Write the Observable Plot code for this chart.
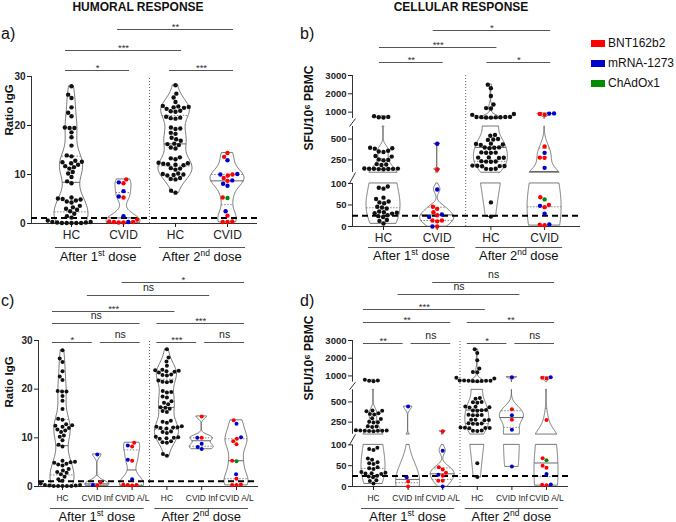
<!DOCTYPE html>
<html>
<head>
<meta charset="utf-8">
<script src="https://cdn.jsdelivr.net/npm/d3@7"></script>
<script src="https://cdn.jsdelivr.net/npm/@observablehq/plot@0.6"></script>
<style>
  html,body{margin:0;padding:0;background:#fff;}
  #chart{position:relative;width:676px;height:522px;overflow:hidden;font-family:"Liberation Sans",Arial,Helvetica,sans-serif;color:#111;}
  #chart svg{position:absolute;left:0;top:0;}
  .ov{position:absolute;white-space:nowrap;line-height:1;}
  .ctr{transform:translate(-50%,-50%);}
  .title{font-weight:bold;font-size:12px;}
  .letter{font-size:16px;}
  .dose{font-size:13px;}
  .dose sup{font-size:8.5px;vertical-align:0;position:relative;top:-5px;}
  .leg{font-size:12px;display:flex;align-items:center;}
  .sw{display:inline-block;width:14px;height:7px;margin-right:3px;}
</style>
</head>
<body>
<div id="chart"></div>
<script>
// ---------------- DATA ----------------
const B = "BNT162b2", M = "mRNA-1273", C = "ChAdOx1";
const vaccines = [B, M, C];
const vaccineColors = ["#ff0000", "#0000cc", "#008a00"];

const sectionTitles = ["HUMORAL RESPONSE", "CELLULAR RESPONSE"];
const panelLetters = ["a)", "b)", "c)", "d)"];
const doseOrdinals = [["1", "st"], ["2", "nd"]];
const labelsTwoGroups = ["HC", "CVID", "HC", "CVID"];
const labelsThreeGroups = ["HC", "CVID Inf", "CVID A/L", "HC", "CVID Inf", "CVID A/L"];
const humoralTicks = [0, 10, 20, 30];
const cellularTicks = [0, 50, 100, 250, 500, 1000, 2000, 3000];
const humoralLabel = "Ratio IgG";
const cellularLabel = "SFU/10\u2076 PBMC";
const humoralThreshold = 1.1;
const cellularThreshold = 25;

// Ratio IgG
const hcHumoralDose1 = [28.0,26.3,25.6,23.7,22.6,21.9,19.6,19.5,19.5,18.6,17.6,15.9,13.9,13.7,12.8,12.6,12.5,12.3,12.0,11.7,11.5,11.2,10.5,10.2,9.5,8.6,8.2,5.3,5.1,5.0,4.9,4.7,4.5,4.3,3.6,3.3,3.0,2.8,2.5,2.0,1.5,1.2,0.6,0.3,0.3,0.2,0.2,0.1,0.1,0.1,0.1,0.1];
const hcHumoralDose2 = [28.2,26.5,25.7,24.8,24.0,23.9,23.8,23.7,23.6,23.4,23.0,22.9,22.8,21.8,21.6,21.5,21.4,19.6,19.4,19.3,18.5,18.3,17.5,17.2,16.9,16.3,16.2,16.0,15.5,15.3,13.5,13.3,13.1,12.4,12.3,12.2,12.1,12.0,11.9,11.3,11.2,11.0,10.2,10.1,10.0,9.9,9.8,9.3,9.1,9.0,6.7,6.3];
const cvidHumoralDose1Inf = [[6.6,M],[0.8,B],[0.3,M],[0.2,B]];
const cvidHumoralDose1AL = [[9.0,B],[8.4,M],[8.2,B],[5.5,M],[5.3,B],[1.5,M],[0.4,B],[0.3,B],[0.3,B],[0.2,B]];
const cvidHumoralDose2Inf = [[14.4,B],[10.0,B],[10.0,M],[8.8,M],[8.1,M],[7.7,M]];
const cvidHumoralDose2AL = [[13.6,B],[12.9,M],[10.1,M],[9.8,B],[9.3,B],[8.7,B],[5.3,B],[5.2,C],[2.5,M],[1.6,B],[0.4,B],[0.3,B],[0.3,B]];

// SFU / 10^6 PBMC
const hcCellularDose1 = [780,740,720,700,395,390,385,360,351,345,297,290,255,250,245,200,196,190,148,146,145,144,143,142,140,138,93,90,88,67,64,58,56,54,46,44,42,35,33,32,31,30,26,24,22,15,13,7];
const hcCellularDose2 = [2500,2300,1880,1420,1220,1200,900,850,740,735,730,725,720,715,710,700,550,540,500,495,490,445,440,435,430,400,398,395,390,340,338,336,335,280,278,276,274,235,232,230,228,182,180,178,176,174,145,143,140,56,23];
const cvidCellularDose1Inf = [[443,M],[22,M],[12,B],[0,B]];
const cvidCellularDose1AL = [[136,B],[86,M],[46,B],[41,B],[33,B],[28,M],[26,B],[14,B],[14,B],[0,M]];
const cvidCellularDose2Inf = [[930,M],[410,B],[335,M],[278,B],[155,M],[48,M]];
const cvidCellularDose2AL = [[920,M],[900,B],[850,B],[275,B],[68,B],[63,C],[50,B],[45,B],[30,M],[5,M],[4,B],[3,B]];

// significance comparisons: [from, to, label, tier]
const comparisonsA = [["HC1","CVID1","*",0],["HC2","CVID2","***",0],["HC1","HC2","***",1],["CVID1","CVID2","**",2]];
const comparisonsB = [["HC1","CVID1","**",0],["HC2","CVID2","*",0],["HC1","HC2","***",1],["CVID1","CVID2","*",2]];
const comparisonsC = [["HC1","Inf1","*",0],["Inf1","AL1","ns",0],["HC2","Inf2","***",0],["Inf2","AL2","ns",0],["HC1","AL1","ns",1],["HC2","AL2","***",1],["HC1","HC2","***",2],["Inf1","Inf2","ns",3],["AL1","AL2","*",4]];
const comparisonsD = [["HC1","Inf1","**",0],["Inf1","AL1","ns",0],["HC2","Inf2","*",0],["Inf2","AL2","ns",0],["HC1","AL1","**",1],["HC2","AL2","**",1],["HC1","HC2","***",2],["Inf1","Inf2","ns",3],["AL1","AL2","ns",4]];

// ---------------- BUILD ----------------
const hcPts = vals => vals.map(v => ({value: v, vaccine: null}));
const cvPts = (...lists) => lists.flat().map(([v, vac]) => ({value: v, vaccine: vac}));

const EPS = 1e-4;
// axis segments (value breakpoints) and the share of the axis height at each breakpoint
const humoralScale = {domain: [0, 30], fractions: [0, 1], ticks: humoralTicks, threshold: humoralThreshold, label: humoralLabel};
const cellularScale = {domain: [0, 100, 100 + EPS, 650, 650 + EPS, 3000], fractions: [0, 0.285, 0.358, 0.662, 0.715, 1], ticks: cellularTicks, threshold: cellularThreshold, label: cellularLabel};

const panels = [
  {letter: panelLetters[0], letterPos: [1, 26], scale: humoralScale, comps: comparisonsA, labels: labelsTwoGroups, doses: [[0,1],[2,3]], sep: 1.5,
   groups: [
     {key: "HC1", points: hcPts(hcHumoralDose1)},
     {key: "CVID1", points: cvPts(cvidHumoralDose1Inf, cvidHumoralDose1AL)},
     {key: "HC2", points: hcPts(hcHumoralDose2)},
     {key: "CVID2", points: cvPts(cvidHumoralDose2Inf, cvidHumoralDose2AL)}],
   L: {x0: 71, unit: 52, xlo: 31, xhi: 257, yTop: 76, yBot: 223, tiers: [-6,-26,-47], under: 24, doseY: 256, labelAt: [9,135], labelSize: 11.5, catFont: 12, tickPad: 3, tickFont: 10, halfW: 17, r: 2.2, padL: 6, padR: 6, underPad: [16,18]}},
  {letter: panelLetters[1], letterPos: [300, 26], scale: cellularScale, comps: comparisonsB, labels: labelsTwoGroups, doses: [[0,1],[2,3]], sep: 1.53,
   groups: [
     {key: "HC1", points: hcPts(hcCellularDose1)},
     {key: "CVID1", points: cvPts(cvidCellularDose1Inf, cvidCellularDose1AL)},
     {key: "HC2", points: hcPts(hcCellularDose2)},
     {key: "CVID2", points: cvPts(cvidCellularDose2Inf, cvidCellularDose2AL)}],
   L: {x0: 383, unit: 53.7, xlo: 352, xhi: 580, yTop: 75, yBot: 226, tiers: [-13,-28,-45], under: 21, doseY: 255, labelAt: [309,150], labelSize: 12, catFont: 12, tickPad: 3, tickFont: 9.5, halfW: 17, r: 2.2, padL: 4, padR: 6, underPad: [15,18]}},
  {letter: panelLetters[2], letterPos: [1, 293], scale: humoralScale, comps: comparisonsC, labels: labelsThreeGroups, doses: [[0,2],[3,5]], sep: 2.5,
   groups: [
     {key: "HC1", points: hcPts(hcHumoralDose1)},
     {key: "Inf1", points: cvPts(cvidHumoralDose1Inf)},
     {key: "AL1", points: cvPts(cvidHumoralDose1AL)},
     {key: "HC2", points: hcPts(hcHumoralDose2)},
     {key: "Inf2", points: cvPts(cvidHumoralDose2Inf)},
     {key: "AL2", points: cvPts(cvidHumoralDose2AL)}],
   L: {x0: 62, unit: 34.8, xlo: 38, xhi: 258, yTop: 340, yBot: 486, tiers: [2,-17,-29,-45,-58], under: 22, doseY: 516, labelAt: [8.5,407], labelSize: 11.5, catFont: 8.4, tickPad: 5, tickFont: 10, halfW: 12, r: 2.0, padL: 10, padR: 8, underPad: [12,12]}},
  {letter: panelLetters[3], letterPos: [300, 293], scale: cellularScale, comps: comparisonsD, labels: labelsThreeGroups, doses: [[0,2],[3,5]], sep: 2.5,
   groups: [
     {key: "HC1", points: hcPts(hcCellularDose1)},
     {key: "Inf1", points: cvPts(cvidCellularDose1Inf)},
     {key: "AL1", points: cvPts(cvidCellularDose1AL)},
     {key: "HC2", points: hcPts(hcCellularDose2)},
     {key: "Inf2", points: cvPts(cvidCellularDose2Inf)},
     {key: "AL2", points: cvPts(cvidCellularDose2AL)}],
   L: {x0: 373, unit: 34.6, xlo: 352, xhi: 568, yTop: 340, yBot: 486, tiers: [3,-18,-31,-46,-58], under: 22, doseY: 516, labelAt: [309,400], labelSize: 12, catFont: 8.4, tickPad: 5, tickFont: 9.5, halfW: 12, r: 2.0, padL: 10, padR: 8, underPad: [12,12]}}
];

const root = document.getElementById("chart");
function overlay(html, cls, left, top) {
  const d = document.createElement("div");
  d.className = "ov " + cls;
  d.innerHTML = html;
  d.style.left = left + "px";
  d.style.top = top + "px";
  root.appendChild(d);
  return d;
}

function makePanel(P) {
  const L = P.L, S = P.scale;
  // broken-axis transform: value -> share of axis height (0..1); Plot's linear y scale maps that share to pixels
  const f = d3.scaleLinear().domain(S.domain).range(S.fractions);
  const H = L.yBot - L.yTop;
  const toPix = u => L.yBot - u * H;
  const xDomain = [(L.xlo - L.x0) / L.unit, (L.xhi - L.x0) / L.unit];
  const valueSegs = [];
  for (let i = 0; i < S.domain.length; i += 2) valueSegs.push([S.domain[i], S.domain[i + 1]]);
  const segs = valueSegs.map(([a, b]) => [f(a), f(b)]);
  const gaps = segs.slice(1).map((s, i) => ({lo: segs[i][1], hi: s[0]}));
  const vTop = S.domain[S.domain.length - 1];

  const hcDots = [], cvidDots = [], violin = [], quart = [];
  P.groups.forEach((g, gi) => {
    // beeswarm layout in pixel space
    const D = 2 * L.r + 0.4;
    const items = g.points.map(p => ({...p, u: f(p.value), py: toPix(f(p.value))})).sort((a, b) => b.py - a.py);
    const placed = [];
    for (const it of items) {
      const near = placed.filter(q => Math.abs(q.py - it.py) < D);
      const cands = [0];
      near.forEach(q => { const h = Math.sqrt(D * D - (q.py - it.py) ** 2); cands.push(q.ox + h, q.ox - h); });
      cands.sort((a, b) => (Math.abs(a) - Math.abs(b)) || (a - b));
      const found = cands.find(c => near.every(q => (q.ox - c) ** 2 + (q.py - it.py) ** 2 >= D * D - 1e-6));
      it.ox = found === undefined ? 0 : found;
      placed.push(it);
      (it.vaccine ? cvidDots : hcDots).push({x: gi + it.ox / L.unit, y: it.u, vaccine: it.vaccine});
    }
    // kernel density in value space for the violin (truncated at min / max)
    const vals = g.points.map(p => p.value);
    const n = vals.length;
    const sortedV = vals.slice().sort(d3.ascending);
    const sd = d3.deviation(vals) || 0;
    const iqr = d3.quantile(sortedV, 0.75) - d3.quantile(sortedV, 0.25);
    let spread = Math.min(sd, iqr / 1.34);
    if (!(spread > 0)) spread = sd || vTop * 0.01;
    const bw = Math.max(vTop * 0.003, 0.9 * spread * Math.pow(n, -0.2) * 0.7);
    const dens = v => d3.sum(vals, q => Math.exp(-0.5 * ((v - q) / bw) ** 2));
    const vMin = sortedV[0], vMax = sortedV[n - 1];
    const rows = [];
    valueSegs.forEach(([v0, v1], si) => {
      const a = Math.max(vMin, v0), b = Math.min(vMax, v1);
      if (!(b > a) || (toPix(f(a)) - toPix(f(b))) < 0.5) return;
      for (let k = 0; k <= 80; k++) {
        const v = a + (b - a) * k / 80;
        rows.push({z: gi + "-" + si, u: f(v), d: dens(v)});
      }
    });
    const maxD = d3.max(rows, r => r.d) || 1;
    rows.forEach(rw => {
      const w = rw.d / maxD * L.halfW / L.unit;
      violin.push({z: rw.z, y: rw.u, x1: gi - w, x2: gi + w});
    });
    [0.25, 0.5, 0.75].forEach(q => {
      const v = d3.quantile(sortedV, q);
      const w = dens(v) / maxD * L.halfW / L.unit;
      quart.push({y: f(v), x1: gi - w, x2: gi + w, median: q === 0.5});
    });
  });

  // significance brackets
  const pos = k => P.groups.findIndex(g => g.key === k);
  const brackets = P.comps.map(([a, b, lab, tier]) => {
    const xa = pos(a), xb = pos(b);
    let x1 = xa - L.padL / L.unit, x2 = xb + L.padR / L.unit;
    if (P.comps.some(c => c[3] === tier && c[0] === b)) x2 = xb - 5 / L.unit;
    if (P.comps.some(c => c[3] === tier && c[1] === a)) x1 = xa + 3 / L.unit;
    return {x1, x2, xm: (x1 + x2) / 2, label: lab, tier};
  });
  const tiers = [...new Set(brackets.map(b => b.tier))];
  const bracketMarks = tiers.flatMap(t => {
    const rows = brackets.filter(b => b.tier === t);
    const off = L.tiers[t];
    return [
      Plot.ruleY(rows, {y: 1, x1: "x1", x2: "x2", dy: off, stroke: "#555", strokeWidth: 1}),
      Plot.text(rows.filter(r => r.label !== "ns"), {x: "xm", y: 1, text: "label", dy: off + 0.5, lineAnchor: "bottom", fontSize: 9.5, fill: "#333"}),
      Plot.text(rows.filter(r => r.label === "ns"), {x: "xm", y: 1, text: "label", dy: off - 4.5, lineAnchor: "bottom", fontSize: 10.5, fill: "#222"})
    ];
  });

  const underRows = P.doses.map(([a, b]) => ({x1: a - L.underPad[0] / L.unit, x2: b + L.underPad[1] / L.unit}));
  const catPositions = P.labels.map((_, i) => i);
  const tickU = S.ticks.map(t => f(t));

  const svg = Plot.plot({
    width: 676, height: 522,
    marginLeft: L.xlo, marginRight: 676 - L.xhi, marginTop: L.yTop, marginBottom: 522 - L.yBot,
    x: {domain: xDomain},
    y: {domain: [0, 1]},
    color: {domain: vaccines, range: vaccineColors},
    style: {background: "transparent", overflow: "visible", fontFamily: "'Liberation Sans', Arial, sans-serif", color: "#111"},
    marks: [
      // axis lines (broken where the value axis is broken)
      Plot.ruleX(segs, {x: xDomain[0], y1: d => d[0], y2: d => d[1], stroke: "#333", strokeWidth: 1}),
      Plot.link(gaps, {x1: xDomain[0] - 3 / L.unit, x2: xDomain[0] + 3 / L.unit, y1: "lo", y2: "hi", stroke: "#333", strokeWidth: 1}),
      Plot.ruleY([0], {x1: xDomain[0], x2: xDomain[1], stroke: "#333", strokeWidth: 1}),
      Plot.axisY({ticks: tickU, tickFormat: u => String(S.ticks[tickU.indexOf(u)]), tickSize: 4, tickPadding: 2, fontSize: L.tickFont, fontWeight: "bold", label: null, anchor: "left", color: "#222"}),
      Plot.axisX({ticks: catPositions, tickFormat: i => P.labels[i], tickSize: 4, tickPadding: L.tickPad, fontSize: L.catFont, label: null, anchor: "bottom", color: "#222"}),
      Plot.text([S.label], {frameAnchor: "left", text: d => d, rotate: -90, dx: L.labelAt[0] - L.xlo, dy: L.labelAt[1] - (L.yTop + L.yBot) / 2, fontSize: L.labelSize, fontWeight: "bold", fill: "#111"}),
      // dose separator
      Plot.ruleX([P.sep], {y1: 0, y2: 1, stroke: "#666", strokeWidth: 1, strokeDasharray: "1,2"}),
      // violins with median (solid) and quartiles (dotted)
      Plot.areaX(violin, {y: "y", x1: "x1", x2: "x2", z: "z", fill: "none", stroke: "#555", strokeWidth: 0.8}),
      Plot.ruleY(quart.filter(q => q.median), {y: "y", x1: "x1", x2: "x2", stroke: "#555", strokeWidth: 0.9}),
      Plot.ruleY(quart.filter(q => !q.median), {y: "y", x1: "x1", x2: "x2", stroke: "#777", strokeWidth: 0.9, strokeDasharray: "1.5,1.5"}),
      // detection threshold
      Plot.ruleY([f(S.threshold)], {x1: xDomain[0], x2: xDomain[1], stroke: "#000", strokeWidth: 2, strokeDasharray: "6,4"}),
      // individual points
      Plot.dot(hcDots, {x: "x", y: "y", r: L.r, fill: "#111", stroke: "none"}),
      Plot.dot(cvidDots, {x: "x", y: "y", r: L.r, fill: "vaccine", stroke: "none"}),
      // dose group underlines
      Plot.ruleY(underRows, {y: 0, x1: "x1", x2: "x2", dy: L.under, stroke: "#555", strokeWidth: 1}),
      ...bracketMarks
    ]
  });
  root.appendChild(svg);

  const xs = svg.scale ? svg.scale("x") : null;
  const px = v => (xs && xs.apply) ? xs.apply(v) : L.x0 + v * L.unit;
  underRows.forEach((u, i) => {
    overlay(`After ${doseOrdinals[i][0]}<sup>${doseOrdinals[i][1]}</sup> dose`, "dose ctr", px((u.x1 + u.x2) / 2), L.doseY);
  });
  overlay(P.letter, "letter", P.letterPos[0], P.letterPos[1]);
}

panels.forEach(makePanel);

overlay(sectionTitles[0], "title ctr", 138, 7);
overlay(sectionTitles[1], "title ctr", 461, 7);

vaccines.forEach((v, i) => {
  overlay(`<span class="sw" style="background:${vaccineColors[i]}"></span>${v}`, "leg", 591, 37 + i * 20);
});
</script>
</body>
</html>
